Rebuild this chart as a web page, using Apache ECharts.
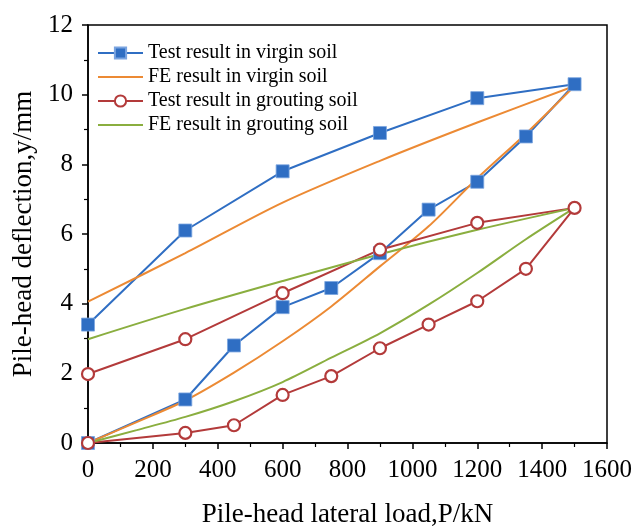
<!DOCTYPE html>
<html>
<head>
<meta charset="utf-8">
<script src="https://cdn.jsdelivr.net/npm/echarts@6/dist/echarts.min.js"></script>
<style>html,body{margin:0;padding:0;background:#fff}#c{width:644px;height:528px}</style>
</head>
<body>
<div id="c"></div>
<script>
// Test result in virgin soil: loading then unloading path (load kN, deflection mm)
var testVirginX = [0, 300, 450, 600, 750, 900, 1050, 1200, 1350, 1500, 1200, 900, 600, 300, 0];
var testVirginY = [0, 1.25, 2.8, 3.9, 4.45, 5.45, 6.7, 7.5, 8.8, 10.3, 9.9, 8.9, 7.8, 6.1, 3.4];
// Test result in grouting soil
var testGroutX = [0, 300, 450, 600, 750, 900, 1050, 1200, 1350, 1500, 1200, 900, 600, 300, 0];
var testGroutY = [0, 0.29, 0.51, 1.38, 1.92, 2.72, 3.4, 4.07, 5.0, 6.75, 6.32, 5.55, 4.3, 2.98, 1.98];
// FE result in virgin soil
var feVirginLoadX = [0, 150, 300, 450, 600, 750, 900, 1050, 1200, 1350, 1500];
var feVirginLoadY = [0, 0.6, 1.22, 2.02, 2.92, 3.92, 5.07, 6.22, 7.6, 8.88, 10.25];
var feVirginUnloadX = [1500, 1200, 900, 600, 300, 0];
var feVirginUnloadY = [10.25, 9.2, 8.1, 6.9, 5.45, 4.06];
// FE result in grouting soil
var feGroutLoadX = [0, 150, 300, 450, 600, 750, 900, 1050, 1200, 1350, 1500];
var feGroutLoadY = [0, 0.37, 0.75, 1.2, 1.75, 2.45, 3.15, 3.97, 4.88, 5.85, 6.75];
var feGroutUnloadX = [1500, 1200, 900, 600, 300, 0];
var feGroutUnloadY = [6.75, 6.12, 5.42, 4.65, 3.85, 2.98];
// Axis ticks
var xTicks = [0, 200, 400, 600, 800, 1000, 1200, 1400, 1600];
var yTicks = [0, 2, 4, 6, 8, 10, 12];
var legendNames = ['Test result in virgin soil', 'FE result in virgin soil', 'Test result in grouting soil', 'FE result in grouting soil'];

function pairs(xs, ys) { return xs.map(function (x, i) { return [x, ys[i]]; }); }

var FONT = '"Liberation Serif", "Times New Roman", serif';
var cBlue = '#2f6ec3', cOrange = '#ec8a34', cRed = '#b33a3a', cGreen = '#8aae3f';

var chart = echarts.init(document.getElementById('c'), null, {renderer: 'canvas'});
var axisCommon = {
  axisLine: {show: true, onZero: false, lineStyle: {color: '#000', width: 1.5}},
  axisTick: {show: true, inside: false, length: 6, lineStyle: {color: '#000', width: 1.5}},
  minorTick: {show: true, splitNumber: 2, length: 4, lineStyle: {color: '#000', width: 1.2}},
  splitLine: {show: false},
  nameTextStyle: {color: '#000', fontFamily: FONT, fontSize: 27},
  nameLocation: 'middle'
};
function lbl(margin) {
  return {color: '#000', fontFamily: FONT, fontSize: 25, margin: margin,
          formatter: function (v) { return String(v); }};
}
chart.setOption({
  animation: false,
  backgroundColor: '#fff',
  grid: {left: 88, right: 37, top: 25, bottom: 85, outerBoundsMode: 'none', containLabel: false,
         show: true, borderColor: '#000', borderWidth: 1.5, backgroundColor: 'transparent'},
  legend: {
    left: 97, top: 43, orient: 'vertical', padding: 0, itemWidth: 45, itemHeight: 14, itemGap: 4,
    textStyle: {color: '#000', fontFamily: FONT, fontSize: 20, lineHeight: 20},
    data: [
      {name: legendNames[0]},
      {name: legendNames[1], itemStyle: {opacity: 0}},
      {name: legendNames[2]},
      {name: legendNames[3], itemStyle: {opacity: 0}}
    ]
  },
  xAxis: Object.assign({}, axisCommon, {
    type: 'value', min: xTicks[0], max: xTicks[xTicks.length - 1], interval: 200,
    name: 'Pile-head lateral load,P/kN', nameGap: 58, axisLabel: lbl(15)
  }),
  yAxis: Object.assign({}, axisCommon, {
    type: 'value', min: yTicks[0], max: yTicks[yTicks.length - 1], interval: 2,
    name: 'Pile-head deflection,y/mm', nameGap: 41, axisLabel: lbl(15)
  }),
  series: [
    {name: legendNames[0], type: 'line', data: pairs(testVirginX, testVirginY),
     symbol: 'rect', symbolSize: 13, color: cBlue,
     lineStyle: {color: cBlue, width: 2}, itemStyle: {color: cBlue, borderColor: '#7aa4e0', borderWidth: 0.8}},
    {name: legendNames[1], type: 'line', data: pairs(feVirginLoadX, feVirginLoadY),
     symbol: 'none', smooth: 0.3, color: cOrange, lineStyle: {color: cOrange, width: 2}},
    {name: legendNames[1], type: 'line', data: pairs(feVirginUnloadX, feVirginUnloadY),
     symbol: 'none', smooth: 0.3, color: cOrange, lineStyle: {color: cOrange, width: 2}},
    {name: legendNames[2], type: 'line', data: pairs(testGroutX, testGroutY),
     symbol: 'circle', symbolSize: 12, color: cRed,
     lineStyle: {color: cRed, width: 2}, itemStyle: {color: '#fff', borderColor: cRed, borderWidth: 2.2}},
    {name: legendNames[3], type: 'line', data: pairs(feGroutLoadX, feGroutLoadY),
     symbol: 'none', smooth: 0.3, color: cGreen, lineStyle: {color: cGreen, width: 2}},
    {name: legendNames[3], type: 'line', data: pairs(feGroutUnloadX, feGroutUnloadY),
     symbol: 'none', smooth: 0.3, color: cGreen, lineStyle: {color: cGreen, width: 2}}
  ]
});
</script>
</body>
</html>
